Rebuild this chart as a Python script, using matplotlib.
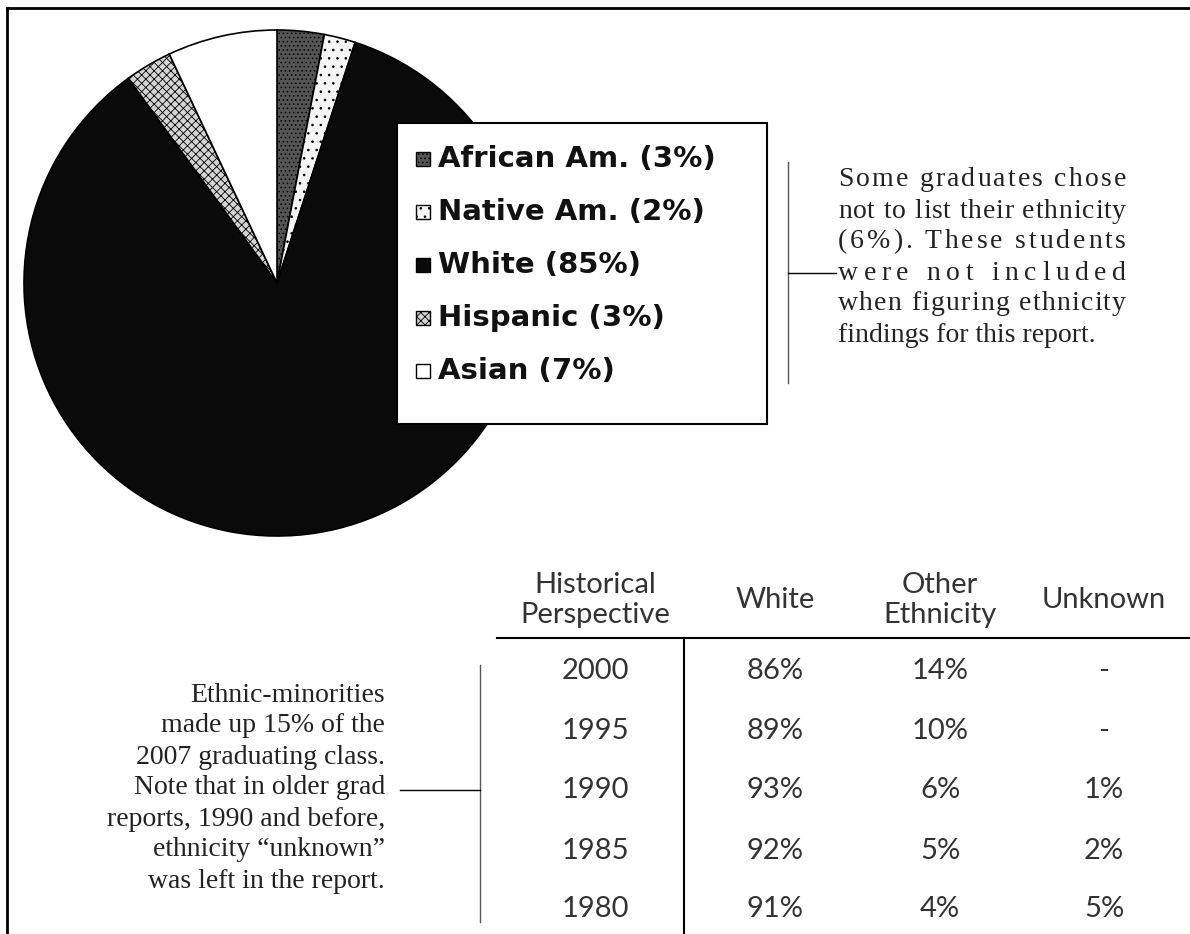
import matplotlib

matplotlib.use("Agg")
import matplotlib.pyplot as plt
from matplotlib.patches import Rectangle

# pie data
groups = ["African Am.", "Native Am.", "White", "Hispanic", "Asian"]
shares = [3, 2, 85, 3, 7]
fills = ["#555555", "#f4f4f4", "#0a0a0a", "#d4d4d4", "#ffffff"]
hatches = ["....", "..", None, "xxxx", None]

# historical table
col_heads = ["Historical\nPerspective", "White", "Other\nEthnicity", "Unknown"]
years = ["2000", "1995", "1990", "1985", "1980"]
white_pct = ["86%", "89%", "93%", "92%", "91%"]
other_pct = ["14%", "10%", "6%", "5%", "4%"]
unknown_pct = ["-", "-", "1%", "2%", "5%"]

note_right = [
    "Some graduates chose",
    "not to list their ethnicity",
    "(6%). These students",
    "were not included",
    "when figuring ethnicity",
    "findings for this report.",
]
note_left = [
    "Ethnic-minorities",
    "made up 15% of the",
    "2007 graduating class.",
    "Note that in older grad",
    "reports, 1990 and before,",
    "ethnicity \u201cunknown\u201d",
    "was left in the report.",
]

W, H = 1190, 934
plt.rcParams["hatch.linewidth"] = 0.6
fig = plt.figure(figsize=(W / 100, H / 100), dpi=100)

# pie, in its own square axes
cx, cy, r = 277, 283, 253
pax = fig.add_axes([(cx - r) / W, (H - cy - r) / H, 2 * r / W, 2 * r / H])
wedges, _ = pax.pie(shares, colors=fills, startangle=90, counterclock=False,
                    wedgeprops=dict(edgecolor="black", linewidth=1.2))
for wdg, h in zip(wedges, hatches):
    if h:
        wdg.set_hatch(h)
pax.set_xlim(-1, 1)
pax.set_ylim(-1, 1)
pax.axis("off")

# overlay in pixel coordinates
ax = fig.add_axes([0, 0, 1, 1], zorder=5)
ax.set_xlim(0, W)
ax.set_ylim(H, 0)
ax.axis("off")

# frame (top + left only)
ax.plot([7, W], [8, 8], color="black", lw=2)
ax.plot([7, 7], [8, H], color="black", lw=2)

# legend box
ax.add_patch(Rectangle((397, 123), 370, 301, facecolor="white", edgecolor="black", lw=1.5, zorder=3))
legend_font = dict(family="DejaVu Sans", weight="bold", fontsize=21, color="#111111")
for i, (g, s) in enumerate(zip(groups, shares)):
    y = 159 + i * 53
    ax.add_patch(Rectangle((416, y - 7), 14, 14, facecolor=fills[i], edgecolor="black",
                           hatch=hatches[i], lw=1, zorder=4))
    ax.text(438, y, f"{g} ({s}%)", va="center", ha="left", zorder=4, **legend_font)

# right note with bracket
ax.plot([788, 788], [162, 383], color="#555555", lw=1)
ax.plot([788, 836], [273, 273], color="black", lw=1)

serif = dict(family="Liberation Serif", fontsize=20, color="#222222")
renderer = fig.canvas.get_renderer()


def text_width(s):
    t = ax.text(0, 0, s, **serif)
    w = t.get_window_extent(renderer=renderer).width
    t.remove()
    return w


def justified(lines, x0, x1, y0, dy):
    space = text_width("n n") - text_width("nn")
    for k, line in enumerate(lines):
        y = y0 + k * dy
        if k == len(lines) - 1:
            ax.text(x0, y, line, ha="left", va="center", **serif)
            continue
        widths = [space if c == " " else text_width(c) for c in line]
        extra = (x1 - x0 - sum(widths)) / (len(line) - 1)
        x = x0
        for c, w in zip(line, widths):
            if c != " ":
                ax.text(x, y, c, ha="left", va="center", **serif)
            x += w + extra


justified(note_right, 838, 1126, 180, 31)

# left note with bracket
for k, line in enumerate(note_left):
    ax.text(385, 695 + k * 31, line, ha="right", va="center", **serif)
ax.plot([480, 480], [665, 922], color="#555555", lw=1)
ax.plot([400, 480], [790, 790], color="black", lw=1)

# table
sans = dict(family="Lato", weight="normal", fontsize=21, color="#333333")
col_x = [595, 775, 940, 1104]
for x, head in zip(col_x, col_heads):
    ax.text(x, 600, head, ha="center", va="center", linespacing=1.2, **sans)
ax.plot([497, W], [638, 638], color="black", lw=1.5)
ax.plot([684, 684], [638, H], color="black", lw=1.5)
row_y = [671, 731, 790, 851, 909]
for y, cells in zip(row_y, zip(years, white_pct, other_pct, unknown_pct)):
    for x, cell in zip(col_x, cells):
        ax.text(x, y, cell, ha="center", va="center", **sans)

fig.savefig("out.png", dpi=100, facecolor="white")
